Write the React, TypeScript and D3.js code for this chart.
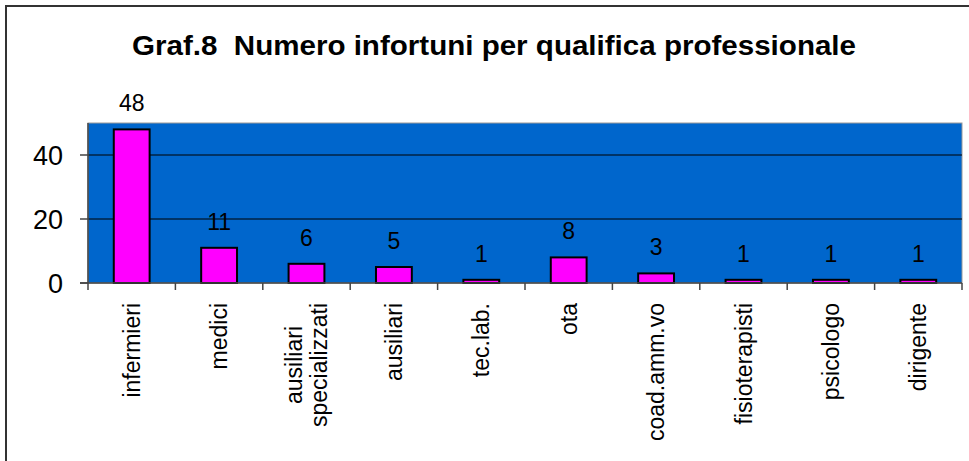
import React, { useEffect, useRef } from "react";
import * as d3 from "d3";

const categories = [
  "infermieri",
  "medici",
  "ausiliari\nspecializzati",
  "ausiliari",
  "tec.lab.",
  "ota",
  "coad.amm.vo",
  "fisioterapisti",
  "psicologo",
  "dirigente",
];
const values = [48, 11, 6, 5, 1, 8, 3, 1, 1, 1];
const yTicks = [0, 20, 40];
const title = "Graf.8  Numero infortuni per qualifica professionale";

const W = 969;
const H = 461;
const plot = { left: 88, right: 962, top: 123, bottom: 283 };
const FONT = "'Liberation Sans', Arial, sans-serif";

export default function App() {
  const ref = useRef<SVGSVGElement | null>(null);

  useEffect(() => {
    const svg = d3.select(ref.current);
    svg.selectAll("*").remove();

    // outer chart border (cropped)
    svg.append("rect").attr("x", 6).attr("y", 6).attr("width", 1000).attr("height", 500)
      .attr("fill", "white").attr("stroke", "#333").attr("stroke-width", 2);

    svg.append("text").attr("x", 132).attr("y", 55)
      .attr("font-family", FONT).attr("font-weight", "bold").attr("font-size", 28)
      .attr("fill", "#000")
      .attr("textLength", 724).attr("lengthAdjust", "spacingAndGlyphs")
      .style("white-space", "pre")
      .text(title);

    const x = d3.scaleBand<string>().domain(categories).range([plot.left, plot.right]).paddingInner(0).paddingOuter(0);
    const y = d3.scaleLinear().domain([0, 50]).range([plot.bottom, plot.top]);

    // plot area
    svg.append("rect").attr("x", plot.left).attr("y", plot.top)
      .attr("width", plot.right - plot.left).attr("height", plot.bottom - plot.top)
      .attr("fill", "#0066CC").attr("stroke", "#999").attr("stroke-width", 1);

    // gridlines
    svg.selectAll(".grid").data(yTicks.filter((t) => t > 0)).join("line")
      .attr("x1", plot.left).attr("x2", plot.right)
      .attr("y1", (d) => y(d)).attr("y2", (d) => y(d))
      .attr("stroke", "#000").attr("stroke-width", 1);

    // bars
    const bw = x.bandwidth() * 0.41;
    svg.selectAll(".bar").data(values).join("rect")
      .attr("x", (_, i) => (x(categories[i]) as number) + x.bandwidth() / 2 - bw / 2)
      .attr("y", (d) => y(d))
      .attr("width", bw)
      .attr("height", (d) => y(0) - y(d))
      .attr("fill", "#FF00FF").attr("stroke", "#000").attr("stroke-width", 2);

    // value labels
    svg.selectAll(".val").data(values).join("text")
      .attr("x", (_, i) => (x(categories[i]) as number) + x.bandwidth() / 2)
      .attr("y", (d) => y(d) - 18)
      .attr("text-anchor", "middle")
      .attr("font-family", FONT).attr("font-size", 23).attr("fill", "#000")
      .text((d) => String(d));

    // axes lines
    svg.append("line").attr("x1", plot.left).attr("x2", plot.left).attr("y1", plot.top).attr("y2", plot.bottom)
      .attr("stroke", "#444").attr("stroke-width", 1.5);
    svg.append("line").attr("x1", plot.left - 8).attr("x2", plot.right).attr("y1", plot.bottom).attr("y2", plot.bottom)
      .attr("stroke", "#444").attr("stroke-width", 1.5);

    // y ticks
    svg.selectAll(".yt").data(yTicks).join("line")
      .attr("x1", plot.left - 8).attr("x2", plot.left)
      .attr("y1", (d) => y(d)).attr("y2", (d) => y(d))
      .attr("stroke", "#444").attr("stroke-width", 1.5);
    svg.selectAll(".ytl").data(yTicks).join("text")
      .attr("x", 63).attr("y", (d) => y(d)).attr("dy", "0.36em")
      .attr("text-anchor", "end")
      .attr("font-family", FONT).attr("font-size", 27).attr("fill", "#000")
      .text((d) => String(d));

    // x ticks at band boundaries
    const bounds = categories.map((c) => x(c) as number).concat([plot.right]);
    svg.selectAll(".xt").data(bounds).join("line")
      .attr("x1", (d) => d).attr("x2", (d) => d)
      .attr("y1", plot.bottom).attr("y2", plot.bottom + 7)
      .attr("stroke", "#444").attr("stroke-width", 1.5);

    // category labels, rotated
    const fs = 23;
    const lh = 25;
    categories.forEach((c) => {
      const lines = c.split("\n");
      const cx = (x(c) as number) + x.bandwidth() / 2;
      const g = svg.append("g");
      const texts = lines.map((ln) =>
        g.append("text").attr("font-family", FONT).attr("font-size", fs).attr("fill", "#000").text(ln)
      );
      const maxLen = Math.max(...texts.map((t) => (t.node() as SVGTextElement).getComputedTextLength()));
      const midY = 303 + maxLen / 2;
      texts.forEach((t, j) => {
        const lx = cx + (j - (lines.length - 1) / 2) * lh;
        t.attr("text-anchor", "middle").attr("dy", "0.35em")
          .attr("transform", `translate(${lx},${midY}) rotate(-90)`);
      });
    });
  }, []);

  return (
    <svg ref={ref} width={W} height={H} style={{ position: "absolute", left: 0, top: 0, background: "white" }} />
  );
}
